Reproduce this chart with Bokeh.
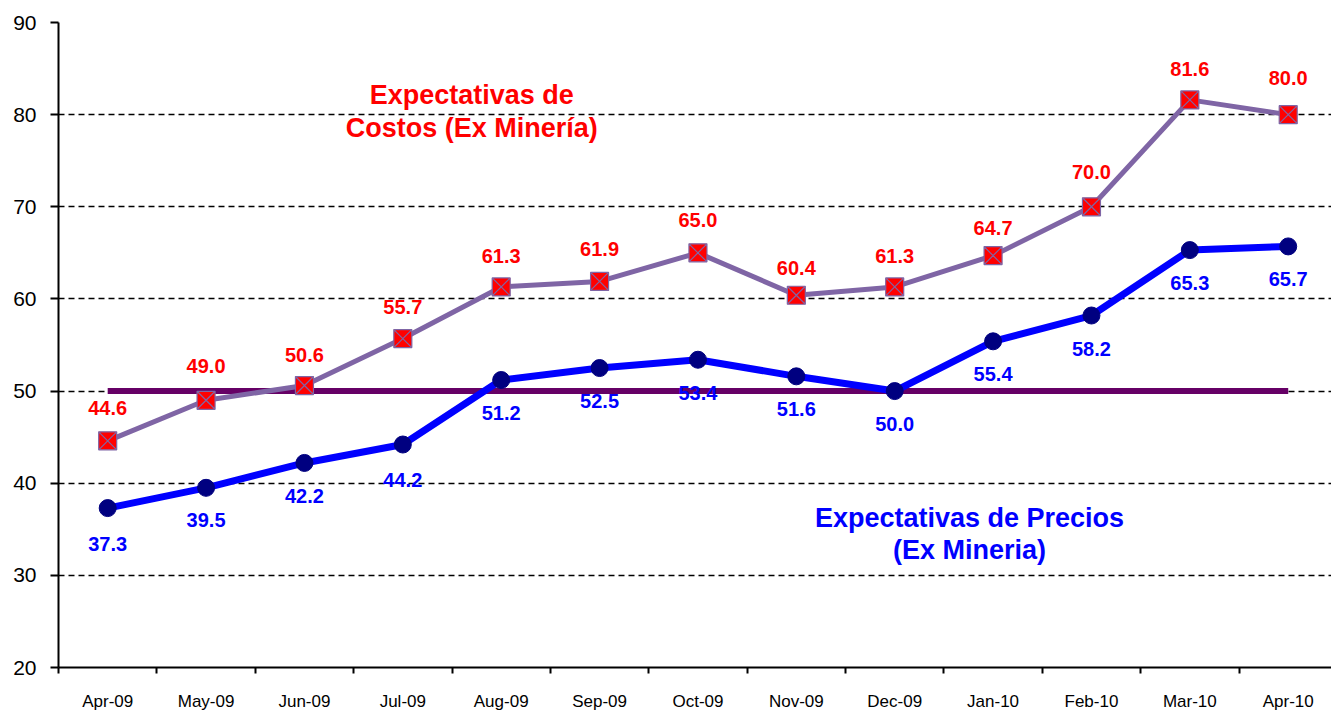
from bokeh.plotting import figure
from bokeh.models import FixedTicker, Label, Range1d
from bokeh.embed import file_html
from bokeh.resources import INLINE

months = ["Apr-09", "May-09", "Jun-09", "Jul-09", "Aug-09", "Sep-09", "Oct-09",
          "Nov-09", "Dec-09", "Jan-10", "Feb-10", "Mar-10", "Apr-10"]
costos = [44.6, 49.0, 50.6, 55.7, 61.3, 61.9, 65.0, 60.4, 61.3, 64.7, 70.0, 81.6, 80.0]
precios = [37.3, 39.5, 42.2, 44.2, 51.2, 52.5, 53.4, 51.6, 50.0, 55.4, 58.2, 65.3, 65.7]
neutral = [50.0] * len(months)
y_ticks = [20, 30, 40, 50, 60, 70, 80, 90]

# label offsets in pixels (style, not data)
costos_off = [33, 34, 31, 32, 31, 32, 33, 27, 31, 28, 35, 31, 37]
precios_off = [36, 32, 33, 35, 33, 33, 33, 33, 33, 33, 33, 33, 33]

FONT = "Liberation Sans"
xs = list(range(len(months)))

p = figure(width=1331, height=713, output_backend="svg", toolbar_location=None,
           x_range=Range1d(-0.5, 12.44), y_range=Range1d(20, 90),
           min_border_left=58, min_border_top=22, min_border_bottom=30, min_border_right=0)
p.outline_line_color = None
p.background_fill_color = "white"

# axes
p.xaxis.ticker = FixedTicker(ticks=xs, minor_ticks=[i - 0.5 for i in range(len(months) + 1)])
p.xaxis.major_label_overrides = {i: m for i, m in enumerate(months)}
p.xaxis.major_tick_line_color = None
p.xaxis.minor_tick_line_color = "black"
p.xaxis.minor_tick_out = 6
p.xaxis.minor_tick_in = 0
p.xaxis.minor_tick_line_width = 2
p.xaxis.axis_line_color = "black"
p.xaxis.axis_line_width = 2
p.xaxis.major_label_text_font = FONT
p.xaxis.major_label_text_font_size = "17px"
p.xaxis.major_label_text_color = "black"
p.xaxis.major_label_standoff = 18

p.yaxis.ticker = FixedTicker(ticks=y_ticks)
p.yaxis.minor_tick_line_color = None
p.yaxis.major_tick_out = 8
p.yaxis.major_tick_in = 0
p.yaxis.major_tick_line_width = 2
p.yaxis.axis_line_width = 2
p.yaxis.major_label_text_font = FONT
p.yaxis.major_label_text_font_size = "21px"
p.yaxis.major_label_text_color = "black"
p.yaxis.major_label_standoff = 14

p.xgrid.grid_line_color = None
p.ygrid.grid_line_color = "black"
p.ygrid.grid_line_dash = "6 4"
p.ygrid.grid_line_width = 1.3

# neutral line
p.line(xs, neutral, line_color="#660066", line_width=6)

# costos
p.line(xs, costos, line_color="#7F65A5", line_width=5)
p.scatter(xs, costos, marker="square_x", size=18, fill_color="#FF0000",
          line_color="#7F65A5", line_width=1.2)

# precios
p.line(xs, precios, line_color="#0000FF", line_width=7)
p.scatter(xs, precios, marker="circle", size=17, fill_color="#000080", line_color="#000080")

# data labels
for i in xs:
    p.add_layout(Label(x=i, y=costos[i], y_offset=costos_off[i], text=f"{costos[i]:.1f}",
                       text_color="#FF0000", text_font=FONT, text_font_style="bold",
                       text_font_size="20px", text_align="center", text_baseline="middle"))
    p.add_layout(Label(x=i, y=precios[i], y_offset=-precios_off[i], text=f"{precios[i]:.1f}",
                       text_color="#0000FF", text_font=FONT, text_font_style="bold",
                       text_font_size="20px", text_align="center", text_baseline="middle"))

# series annotations
for txt, yy in [("Expectativas de", 82.1), ("Costos (Ex Minería)", 78.5)]:
    p.add_layout(Label(x=3.7, y=yy, text=txt, text_color="#FF0000", text_font=FONT,
                       text_font_style="bold", text_font_size="27px",
                       text_align="center", text_baseline="middle"))
for txt, yy in [("Expectativas de Precios", 36.2), ("(Ex Mineria)", 32.8)]:
    p.add_layout(Label(x=8.76, y=yy, text=txt, text_color="#0000FF", text_font=FONT,
                       text_font_style="bold", text_font_size="27px",
                       text_align="center", text_baseline="middle"))

open("out.html", "w").write(file_html(p, INLINE))
